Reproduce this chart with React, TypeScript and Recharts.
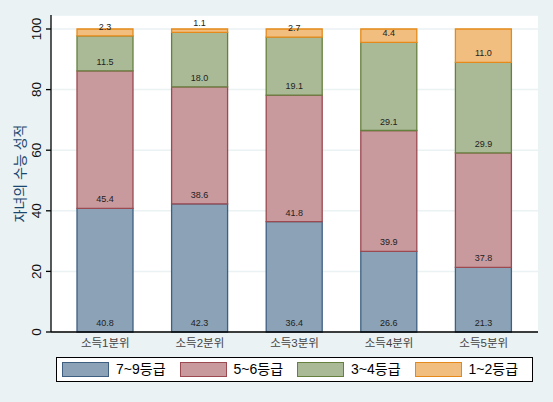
import React from 'react';
import { BarChart, Bar, XAxis, YAxis, CartesianGrid, Legend, LabelList } from 'recharts';

const categories = ['소득1분위', '소득2분위', '소득3분위', '소득4분위', '소득5분위'];
const grade79 = [40.8, 42.3, 36.4, 26.6, 21.3];
const grade56 = [45.4, 38.6, 41.8, 39.9, 37.8];
const grade34 = [11.5, 18.0, 19.1, 29.1, 29.9];
const grade12 = [2.3, 1.1, 2.7, 4.4, 11.0];
const seriesNames = ['7~9등급', '5~6등급', '3~4등급', '1~2등급'];
const yTicks = [0, 20, 40, 60, 80, 100];

const fills = ['#8ca3b7', '#c89a9d', '#aaba97', '#f1be7f'];
const strokes = ['#3f5f80', '#9a4a50', '#66803f', '#e58a1a'];

const data = categories.map((c, i) => ({
  name: c,
  s0: grade79[i],
  s1: grade56[i],
  s2: grade34[i],
  s3: grade12[i],
}));

const FONT = '"Liberation Sans", "Noto Sans CJK KR", Arial, sans-serif';

const BaseLabel = (props: any) => {
  const { x, y, width, height, value } = props;
  return (
    <text
      x={x + width / 2}
      y={y + height - 6}
      textAnchor="middle"
      fontSize={9}
      fill="#222"
      fontFamily={FONT}
    >
      {Number(value).toFixed(1)}
    </text>
  );
};

const YTick = (props: any) => {
  const { x, y, payload } = props;
  const tx = x + 1;
  return (
    <text
      x={tx}
      y={y}
      transform={`rotate(-90, ${tx}, ${y})`}
      textAnchor="middle"
      fontSize={13.5}
      fill="#111"
      fontFamily={FONT}
    >
      {payload.value}
    </text>
  );
};

const LegendBox = () => (
  <div
    style={{
      boxSizing: 'border-box',
      width: 477,
      height: 25,
      border: '1px solid #000',
      background: '#fff',
      display: 'flex',
      alignItems: 'center',
      paddingLeft: 5,
      fontFamily: FONT,
    }}
  >
    {seriesNames.map((n, i) => (
      <div key={n} style={{ width: 120.7, display: 'flex', alignItems: 'center' }}>
        <div
          style={{
            boxSizing: 'border-box',
            width: 47,
            height: 15,
            background: fills[i],
            border: `1.3px solid ${strokes[i]}`,
          }}
        />
        <span style={{ marginLeft: 7, fontSize: 14, color: '#000', lineHeight: '15px' }}>{n}</span>
      </div>
    ))}
  </div>
);

export default function App() {
  return (
    <div
      style={{
        position: 'fixed',
        left: 0,
        top: 0,
        width: 553,
        height: 402,
        background: '#eaf2f3',
        fontFamily: FONT,
      }}
    >
      <BarChart
        width={553}
        height={402}
        data={data}
        margin={{ top: 15, right: 15, left: 0, bottom: 20 }}
        barSize={56}
      >
        <CartesianGrid vertical={false} fill="#ffffff" stroke="#eaf2f3" strokeWidth={1.5} />
        <XAxis
          dataKey="name"
          height={25}
          padding={{ left: 7, right: 7 }}
          tickLine={false}
          tickSize={5}
          axisLine={{ stroke: '#000', strokeWidth: 1.3 }}
          tick={{ fontSize: 11.5, fill: '#444', fontFamily: FONT }}
          interval={0}
        />
        <YAxis
          width={51}
          domain={[0, 100]}
          ticks={yTicks}
          padding={{ top: 14, bottom: 0 }}
          tickSize={5}
          tickMargin={6}
          axisLine={{ stroke: '#000', strokeWidth: 1.3 }}
          tickLine={{ stroke: '#000', strokeWidth: 1.3 }}
          tick={<YTick />}
          label={{
            value: '자녀의 수능 성적',
            angle: -90,
            position: 'insideLeft',
            offset: 0,
            dx: 20,
            style: { fontSize: 14, fill: '#1a476f', fontFamily: FONT, textAnchor: 'middle' },
          }}
        />
        <Legend
          verticalAlign="bottom"
          content={() => <LegendBox />}
          wrapperStyle={{ left: 56, bottom: 20, width: 477, height: 25 }}
        />
        {['s0', 's1', 's2', 's3'].map((k, i) => (
          <Bar
            key={k}
            dataKey={k}
            name={seriesNames[i]}
            stackId="a"
            fill={fills[i]}
            stroke={strokes[i]}
            strokeWidth={1.3}
            isAnimationActive={false}
          >
            <LabelList dataKey={k} content={<BaseLabel />} />
          </Bar>
        ))}
      </BarChart>
    </div>
  );
}
